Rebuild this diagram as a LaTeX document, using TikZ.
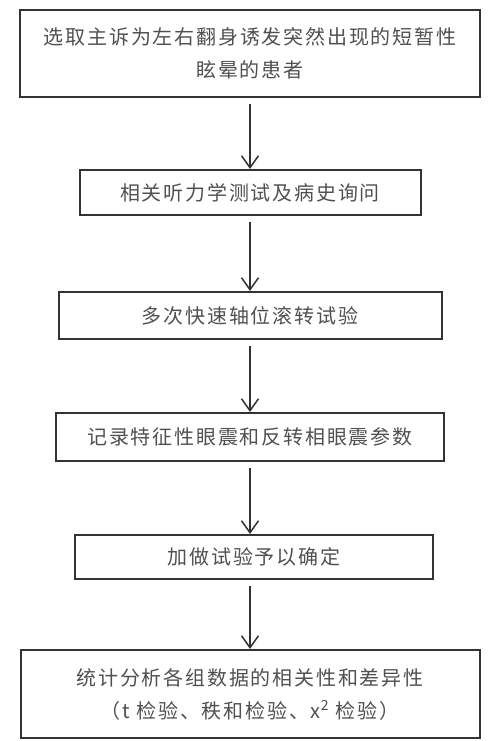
\documentclass[tikz,border=0pt]{standalone}
\usepackage{fontspec}
\setmainfont{Noto Sans CJK SC}[LetterSpace=9]
\usepackage{xcolor}
\usepackage{tikz}
\usetikzlibrary{arrows.meta, positioning}
\definecolor{boxgray}{RGB}{51, 51, 51}
\definecolor{textgray}{RGB}{80, 80, 80}

\begin{document}
\begin{tikzpicture}[
    stepbox/.style={rectangle, draw=boxgray, line width=2pt, inner sep=0pt,
                    text width=#1, align=center, text=textgray,
                    font=\fontsize{20}{33}\selectfont},
    arrow/.style={-{Straight Barb[length=12pt, width=17pt]}, line width=1.5pt,
                  color=boxgray, shorten <=6pt},
]
    \useasboundingbox (0pt,0pt) rectangle (500pt,-741pt);

    \node[stepbox=460pt, minimum height=87pt] (select) at (250pt,-53.5pt)
        {选取主诉为左右翻身诱发突然出现的短暂性\\眩晕的患者};
    \node[stepbox=341pt, minimum height=45pt, below=71pt of select] (hearing)
        {相关听力学测试及病史询问};
    \node[stepbox=383pt, minimum height=47pt, below=75pt of hearing] (roll)
        {多次快速轴位滚转试验};
    \node[stepbox=388pt, minimum height=48pt, below=72pt of roll] (record)
        {记录特征性眼震和反转相眼震参数};
    \node[stepbox=358pt, minimum height=44pt, below=72pt of record, xshift=4pt] (confirm)
        {加做试验予以确定};
    \node[stepbox=459pt, minimum height=88pt, below=69pt of confirm, xshift=-4pt] (stats)
        {统计分析各组数据的相关性和差异性\\（t 检验、秩和检验、x\textsuperscript{2} 检验）};

    % Arrows
    \draw[arrow] (select) -- (hearing);
    \draw[arrow] (hearing) -- (roll);
    \draw[arrow] (roll) -- (record);
    \draw[arrow] (record.south) -- (record.south |- confirm.north);
    \draw[arrow] (stats.north |- confirm.south) -- (stats);
\end{tikzpicture}
\end{document}
